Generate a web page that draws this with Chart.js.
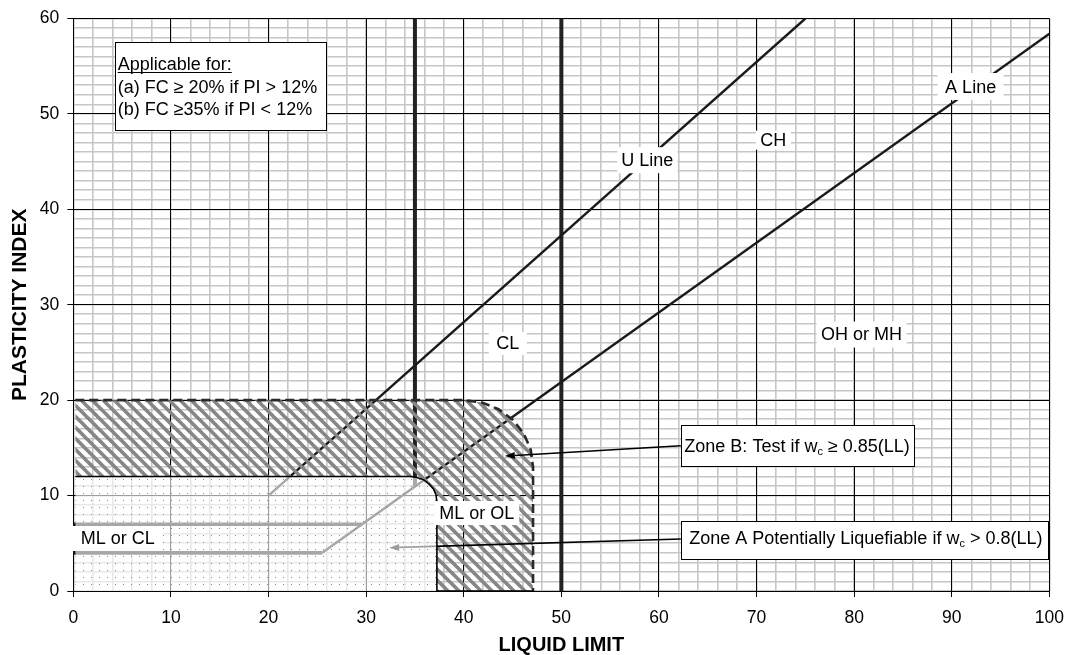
<!DOCTYPE html>
<html>
<head>
<meta charset="utf-8">
<script src="https://cdn.jsdelivr.net/npm/chart.js"></script>
<style>
html,body{margin:0;padding:0;background:#fff;}
#wrap{width:1075px;height:655px;}
</style>
</head>
<body>
<div id="wrap"><canvas id="c" width="1075" height="655"></canvas></div>
<script>
// ---------------- data ----------------
const xTicks = [0, 10, 20, 30, 40, 50, 60, 70, 80, 90, 100];
const yTicks = [0, 10, 20, 30, 40, 50, 60];

const uLine = [{x: 20, y: 10}, {x: 75, y: 60}];
const aLine = [{x: 25.5, y: 4}, {x: 100, y: 58.4}];
const mlclLower = [{x: 0, y: 4}, {x: 25.5, y: 4}];
const mlclUpper = [{x: 0, y: 7}, {x: 29.6, y: 7}];
const ll35 = [{x: 35, y: 11}, {x: 35, y: 60}];
const ll50 = [{x: 50, y: 0}, {x: 50, y: 60}];

const zoneB = [
  {x: 0.2, y: 20}, {x: 40, y: 20}, {x: 41.84, y: 19.76}, {x: 43.55, y: 19.06},
  {x: 45.02, y: 17.95}, {x: 46.15, y: 16.5}, {x: 46.86, y: 14.81},
  {x: 47.1, y: 13}, {x: 47.1, y: 0}
];
const zoneA = [
  {x: 0.2, y: 12}, {x: 34.5, y: 12}, {x: 35.2, y: 11.9}, {x: 35.9, y: 11.65},
  {x: 36.45, y: 11.2}, {x: 36.9, y: 10.7}, {x: 37.15, y: 10.1}, {x: 37.25, y: 9.4},
  {x: 37.25, y: 0}, {x: 47.1, y: 0}
];

// ---------------- annotations (data units) ----------------
const regionLabels = [
  {t: 'CL', ll: 44.51, pi: 25.95, w: 38, h: 23},
  {t: 'CH', ll: 71.72, pi: 47.25, w: 35, h: 19},
  {t: 'OH or MH', ll: 80.76, pi: 26.88, w: 90, h: 26},
  {t: 'U Line', ll: 58.81, pi: 45.15, w: 60, h: 26},
  {t: 'A Line', ll: 91.93, pi: 52.87, w: 66, h: 27},
  {t: 'ML or OL', ll: 41.33, pi: 8.17, w: 85, h: 24},
  {t: 'ML or CL', ll: 4.56, pi: 5.5, w: 90, h: 25}
];
const noteBoxes = [
  {ll1: 4.24, pi1: 57.55, ll2: 25.9, pi2: 48.3, textLL: 4.55, lines: [
    {runs: [{t: 'Applicable for:'}], pi: 55.21, underline: true},
    {runs: [{t: '(a) FC \u2265 20% if PI > 12%'}], pi: 52.8},
    {runs: [{t: '(b) FC \u226535% if PI < 12%'}], pi: 50.5}
  ]},
  {ll1: 62.24, pi1: 17.39, ll2: 86.12, pi2: 13.1, textLL: 62.6, lines: [
    {runs: [{t: 'Zone B: Test if w'}, {t: 'c', sub: true}, {t: ' \u2265 0.85(LL)'}], pi: 15.22}
  ]},
  {ll1: 62.24, pi1: 7.33, ll2: 99.87, pi2: 3.35, textLL: 63.1, lines: [
    {runs: [{t: 'Zone A Potentially Liquefiable if w'}, {t: 'c', sub: true}, {t: ' > 0.8(LL)'}], pi: 5.52}
  ]}
];
const arrows = [
  {from: [62.24, 15.22], to: [44.21, 14.14]},
  {from: [62.24, 5.45], to: [32.36, 4.54]}
];

// ---------------- rendering ----------------
const FAMILY = "'Liberation Sans', Arial, Helvetica, sans-serif";
Chart.defaults.font.family = FAMILY;
Chart.defaults.color = '#000';

const canvas = document.getElementById('c');
const ctx0 = canvas.getContext('2d');

const hatch = (() => {
  const s = 11, c = document.createElement('canvas');
  c.width = s; c.height = s;
  const g = c.getContext('2d');
  g.strokeStyle = '#868686'; g.lineWidth = 3.6;
  for (const k of [-s, 0, s]) {
    g.beginPath(); g.moveTo(k - 3, -3); g.lineTo(k + s + 3, s + 3); g.stroke();
  }
  return ctx0.createPattern(c, 'repeat');
})();

const dots = (() => {
  const c = document.createElement('canvas');
  c.width = 8; c.height = 7;
  const g = c.getContext('2d');
  g.fillStyle = 'rgba(255,255,255,0.62)'; g.fillRect(0, 0, 8, 7);
  g.fillStyle = '#8a8a8a'; g.fillRect(3, 3, 1, 1);
  return ctx0.createPattern(c, 'repeat');
})();

function drawRuns(ctx, runs, x0, yc) {
  let x = x0;
  runs.forEach(r => {
    ctx.font = (r.sub ? '11px ' : '18px ') + FAMILY;
    ctx.fillText(r.t, x, yc + (r.sub ? 5 : 0));
    x += ctx.measureText(r.t).width;
  });
  return x - x0;
}

function drawArrow(ctx, x1, y1, x2, y2) {
  const ang = Math.atan2(y2 - y1, x2 - x1), L = 10, W = 3.5;
  const bx = x2 - L * Math.cos(ang), by = y2 - L * Math.sin(ang);
  ctx.beginPath(); ctx.moveTo(x1, y1); ctx.lineTo(bx, by); ctx.stroke();
  ctx.beginPath(); ctx.moveTo(x2, y2);
  ctx.lineTo(bx + W * Math.sin(ang), by - W * Math.cos(ang));
  ctx.lineTo(bx - W * Math.sin(ang), by + W * Math.cos(ang));
  ctx.closePath(); ctx.fill();
}

const notesPlugin = {
  id: 'notes',
  afterDatasetDraw(chart, args) {
    if (args.index !== 1) return; // after zone B, before zone A
    const {ctx, scales: {x, y}} = chart;
    ctx.save();
    ctx.strokeStyle = '#000'; ctx.fillStyle = '#000'; ctx.lineWidth = 1.6;
    arrows.forEach(a => drawArrow(ctx,
      x.getPixelForValue(a.from[0]), y.getPixelForValue(a.from[1]),
      x.getPixelForValue(a.to[0]), y.getPixelForValue(a.to[1])));
    ctx.restore();
  },
  afterDatasetsDraw(chart) {
    const {ctx, scales: {x, y}} = chart;
    ctx.save();
    ctx.textBaseline = 'middle';
    regionLabels.forEach(l => {
      const cx = x.getPixelForValue(l.ll), cy = y.getPixelForValue(l.pi);
      ctx.fillStyle = '#fff';
      ctx.fillRect(cx - l.w / 2, cy - l.h / 2, l.w, l.h);
      ctx.font = '18px ' + FAMILY;
      ctx.fillStyle = '#000';
      ctx.textAlign = 'center';
      ctx.fillText(l.t, cx, cy + 1);
    });
    ctx.textAlign = 'left';
    noteBoxes.forEach(b => {
      const x1 = Math.round(x.getPixelForValue(b.ll1)) + 0.5;
      const x2 = Math.round(x.getPixelForValue(b.ll2)) + 0.5;
      const y1 = Math.round(y.getPixelForValue(b.pi1)) + 0.5;
      const y2 = Math.round(y.getPixelForValue(b.pi2)) + 0.5;
      ctx.fillStyle = '#fff';
      ctx.fillRect(x1, y1, x2 - x1, y2 - y1);
      ctx.strokeStyle = '#000'; ctx.lineWidth = 1;
      ctx.strokeRect(x1, y1, x2 - x1, y2 - y1);
      ctx.fillStyle = '#000';
      const tx = x.getPixelForValue(b.textLL);
      b.lines.forEach(ln => {
        const cy = y.getPixelForValue(ln.pi);
        const w = drawRuns(ctx, ln.runs, tx, cy + 1);
        if (ln.underline) {
          ctx.beginPath(); ctx.lineWidth = 1;
          ctx.moveTo(tx, Math.round(cy + 8) + 0.5); ctx.lineTo(tx + w, Math.round(cy + 8) + 0.5);
          ctx.stroke();
        }
      });
    });
    ctx.restore();
  }
};

const lineBase = {pointRadius: 0, pointHoverRadius: 0, tension: 0, fill: false,
  borderCapStyle: 'butt', xAxisID: 'x', yAxisID: 'y'};

const MINOR = '#c6c6c6';

new Chart(canvas, {
  type: 'line',
  data: {
    datasets: [
      Object.assign({}, lineBase, {label: 'Zone A', data: zoneA, order: 1,
        borderColor: '#000', borderWidth: 1.6, backgroundColor: dots, fill: 'origin'}),
      Object.assign({}, lineBase, {label: 'Zone B', data: zoneB, order: 2,
        borderColor: '#2a2a2a', borderWidth: 2.6, borderDash: [9, 5], backgroundColor: hatch, fill: 0}),
      Object.assign({}, lineBase, {label: 'U Line', data: uLine, order: 5, borderColor: '#1a1a1a', borderWidth: 2.4}),
      Object.assign({}, lineBase, {label: 'A Line', data: aLine, order: 5, borderColor: '#1a1a1a', borderWidth: 2.4}),
      Object.assign({}, lineBase, {label: 'ML-CL lower', data: mlclLower, order: 5, borderColor: '#1a1a1a', borderWidth: 3.6}),
      Object.assign({}, lineBase, {label: 'ML-CL upper', data: mlclUpper, order: 5, borderColor: '#1a1a1a', borderWidth: 3.6}),
      Object.assign({}, lineBase, {label: 'LL 35', data: ll35, order: 5, borderColor: '#222', borderWidth: 4}),
      Object.assign({}, lineBase, {label: 'LL 50', data: ll50, order: 5, borderColor: '#222', borderWidth: 4})
    ]
  },
  options: {
    responsive: false,
    animation: false,
    events: [],
    devicePixelRatio: 1,
    layout: {padding: {top: 18.3, right: 17.7, bottom: 0, left: 0}},
    plugins: {legend: {display: false}, tooltip: {enabled: false}},
    scales: {
      x: {
        type: 'linear', position: 'bottom', min: 0, max: 100, weight: 1,
        afterFit: s => { s.height = 64; },
        ticks: {
          stepSize: 10, autoSkip: false, maxRotation: 0, padding: 11,
          font: {size: 17.5}, color: '#000',
          callback: (v, i) => xTicks[i] !== undefined ? String(xTicks[i]) : ''
        },
        grid: {color: '#000', lineWidth: 1, tickColor: '#000', tickLength: 6, tickWidth: 1, z: -1},
        border: {display: true, color: '#000', width: 1},
        title: {display: true, text: 'LIQUID LIMIT', color: '#000',
          font: {size: 20, weight: 'bold', lineHeight: 1}, padding: {top: 0, bottom: 0}}
      },
      y: {
        type: 'linear', position: 'left', min: 0, max: 60, weight: 1,
        afterFit: s => { s.width = 73.3; },
        ticks: {
          stepSize: 10, autoSkip: false, padding: 8,
          font: {size: 17.5}, color: '#000',
          callback: (v, i) => yTicks[i] !== undefined ? String(yTicks[i]) : ''
        },
        grid: {color: '#000', lineWidth: 1, tickColor: '#000', tickLength: 6, tickWidth: 1, z: -1},
        border: {display: true, color: '#000', width: 1},
        title: {display: true, text: 'PLASTICITY INDEX', color: '#000',
          font: {size: 21, weight: 'bold', lineHeight: 1}, padding: {top: 9.5, bottom: 0}}
      },
      xMinor: {
        type: 'linear', axis: 'x', position: 'bottom', min: 0, max: 100, weight: 0,
        afterFit: s => { s.height = 0; },
        ticks: {display: false, stepSize: 2, autoSkip: false},
        grid: {color: MINOR, lineWidth: 1.6, drawTicks: false, z: -2},
        border: {display: false}
      },
      yMinor: {
        type: 'linear', axis: 'y', position: 'left', min: 0, max: 60, weight: 0,
        afterFit: s => { s.width = 0; },
        ticks: {display: false, stepSize: 1, autoSkip: false},
        grid: {color: MINOR, lineWidth: 1.6, drawTicks: false, z: -2},
        border: {display: false}
      }
    }
  },
  plugins: [notesPlugin]
});
</script>
</body>
</html>
